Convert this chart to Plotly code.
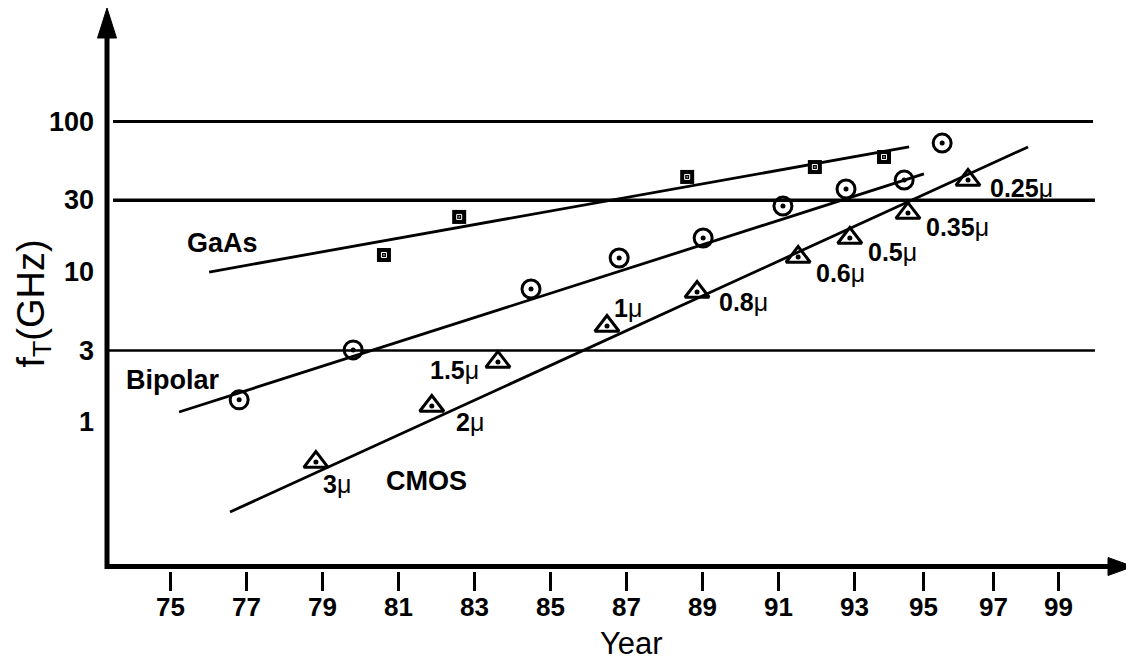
import math
import plotly.graph_objects as go

# ---------------- data ----------------
gaas_year = [80.63, 82.61, 88.61, 91.97, 93.79]
gaas_ft = [12.95, 23.2, 42.8, 49.8, 58.1]

bip_year = [76.82, 79.82, 84.50, 86.82, 89.03, 91.13, 92.79, 94.32, 95.32]
bip_ft = [1.41, 3.03, 7.70, 12.37, 16.8, 27.4, 35.6, 40.8, 71.9]

cmos_year = [78.84, 81.89, 83.63, 86.50, 88.87, 91.53, 92.89, 94.42, 96.00]
cmos_ft = [0.544, 1.283, 2.52, 4.37, 7.35, 12.56, 16.8, 24.6, 40.8]
cmos_node = ["3", "2", "1.5", "1", "0.8", "0.6", "0.5", "0.35", "0.25"]

gaas_trend_year = [76.03, 94.45]
gaas_trend_ft = [9.98, 67.7]
bip_trend_year = [75.24, 94.84]
bip_trend_ft = [1.171, 44.8]
cmos_trend_year = [76.58, 97.58]
cmos_trend_ft = [0.2533, 67.7]

ref_levels = [100, 30, 3]

x_tick_labels = ["75", "77", "79", "81", "83", "85", "87", "89", "91", "93", "95", "97", "99"]
x_tick_pos = [75, 77, 79, 81, 83, 85, 87, 89, 91, 93, 94.84, 96.68, 98.37]
y_tick_vals = [1, 3, 10, 30, 100]

series_names = ["GaAs", "Bipolar", "CMOS"]
series_label_year = [76.37, 75.08, 81.76]
series_label_ft = [15.57, 1.911, 0.407]

# ---------------- styling ----------------
FONT = "Liberation Sans, Arial, Helvetica, sans-serif"
# the page body has an 8px margin, so the figure is made 8px smaller
W, H = 1126, 654
L_M, R_M, T_M, B_M = 99, 4, 2, 91
PLOT_W = W - L_M - R_M      # 1023
PLOT_H = H - T_M - B_M      # 561
REF_LEFT, REF_BOTTOM = 107, 571   # plot-area edges in screen pixels


def paper_x(p):
    return (p - REF_LEFT) / PLOT_W


def paper_y(p):
    return (REF_BOTTOM - p) / PLOT_H


node_shift = [(21, -22), (38, -16), (-43, -8), (21, 18), (46, -10),
              (42, -16), (43, -14), (50, -14), (53, -8)]
grid_width = [2.8, 3.5, 2.5]
grid_x0 = [73.50, 73.50, 73.34]
grid_x1 = [99.29, 99.34, 99.34]

fig = go.Figure()

line_style = dict(color="black", width=2.8)
for xs, ys in [(gaas_trend_year, gaas_trend_ft), (bip_trend_year, bip_trend_ft),
               (cmos_trend_year, cmos_trend_ft)]:
    fig.add_trace(go.Scatter(x=xs, y=ys, mode="lines", line=line_style,
                             showlegend=False, hoverinfo="skip"))

# GaAs squares
fig.add_trace(go.Scatter(x=gaas_year, y=gaas_ft, mode="markers", name="GaAs",
                         marker=dict(symbol="square", size=14, color="black",
                                     line=dict(width=0)), showlegend=False))
fig.add_trace(go.Scatter(x=gaas_year, y=gaas_ft, mode="markers", hoverinfo="skip",
                         marker=dict(symbol="square-open-dot", size=5, color="white",
                                     line=dict(width=1, color="white")), showlegend=False))
# Bipolar circles
fig.add_trace(go.Scatter(x=bip_year, y=bip_ft, mode="markers", name="Bipolar",
                         marker=dict(symbol="circle-open", size=18, color="black",
                                     line=dict(width=3, color="black")), showlegend=False))
fig.add_trace(go.Scatter(x=bip_year, y=bip_ft, mode="markers", hoverinfo="skip",
                         marker=dict(symbol="circle", size=5, color="black"), showlegend=False))
# CMOS triangles
fig.add_trace(go.Scatter(x=cmos_year, y=cmos_ft, mode="markers", name="CMOS",
                         marker=dict(symbol="triangle-up-open", size=21, color="black",
                                     line=dict(width=3, color="black")), showlegend=False))
fig.add_trace(go.Scatter(x=cmos_year, y=cmos_ft, mode="markers", hoverinfo="skip",
                         marker=dict(symbol="circle", size=5, color="black"), showlegend=False))

annotations = []
for name, xv, yv in zip(series_names, series_label_year, series_label_ft):
    annotations.append(dict(x=xv, y=math.log10(yv), xref="x", yref="y", text=f"<b>{name}</b>",
                            showarrow=False, font=dict(family=FONT, size=27, color="black"),
                            xanchor="center", yanchor="middle"))
for xv, yv, node, (dx, dy) in zip(cmos_year, cmos_ft, cmos_node, node_shift):
    annotations.append(dict(x=xv, y=math.log10(yv), xref="x", yref="y", text=f"<b>{node}</b>μ",
                            showarrow=False, font=dict(family=FONT, size=25, color="black"),
                            xanchor="center", yanchor="middle", xshift=dx, yshift=dy))
# tick labels
for v in y_tick_vals:
    annotations.append(dict(x=paper_x(96), y=math.log10(v), xref="paper", yref="y",
                            text=f"<b>{v}</b>", showarrow=False,
                            font=dict(family=FONT, size=27, color="black"),
                            xanchor="right", yanchor="middle"))
for pos, lab in zip(x_tick_pos, x_tick_labels):
    annotations.append(dict(x=pos, y=paper_y(607.5), xref="x", yref="paper",
                            text=f"<b>{lab}</b>", showarrow=False,
                            font=dict(family=FONT, size=26, color="black"),
                            xanchor="center", yanchor="middle"))
# axis titles
annotations.append(dict(x=paper_x(631), y=paper_y(643.5), xref="paper", yref="paper", text="Year",
                        showarrow=False, font=dict(family=FONT, size=31, color="black"),
                        xanchor="center", yanchor="middle"))
annotations.append(dict(x=paper_x(33), y=paper_y(303.5), xref="paper", yref="paper",
                        text="f<sub>T</sub>(GHz)", textangle=-90,
                        showarrow=False, font=dict(family=FONT, size=38, color="black"),
                        xanchor="center", yanchor="middle"))

shapes = []
for lvl, wdt, x0, x1 in zip(ref_levels, grid_width, grid_x0, grid_x1):
    shapes.append(dict(type="line", xref="x", yref="y", x0=x0, x1=x1, y0=lvl, y1=lvl,
                       line=dict(color="black", width=wdt)))
# axis lines
shapes.append(dict(type="line", xref="paper", yref="paper",
                   x0=paper_x(107), x1=paper_x(107), y0=paper_y(569), y1=paper_y(30),
                   line=dict(color="black", width=5)))
shapes.append(dict(type="line", xref="paper", yref="paper",
                   x0=paper_x(105), x1=paper_x(1115), y0=paper_y(566.5), y1=paper_y(566.5),
                   line=dict(color="black", width=5)))
# arrow heads
shapes.append(dict(type="path", xref="paper", yref="paper",
                   path=(f"M {paper_x(107)},{paper_y(8)} L {paper_x(116.5)},{paper_y(38)} "
                         f"L {paper_x(97.5)},{paper_y(38)} Z"),
                   fillcolor="black", line=dict(color="black", width=1)))
shapes.append(dict(type="path", xref="paper", yref="paper",
                   path=(f"M {paper_x(1133)},{paper_y(566.5)} L {paper_x(1108)},{paper_y(557.5)} "
                         f"L {paper_x(1108)},{paper_y(575.5)} Z"),
                   fillcolor="black", line=dict(color="black", width=1)))

fig.update_layout(
    width=W, height=H,
    margin=dict(l=L_M, r=R_M, t=T_M, b=B_M),
    paper_bgcolor="white", plot_bgcolor="white",
    showlegend=False,
    annotations=annotations,
    shapes=shapes,
    xaxis=dict(range=[73.3421, 100.2632], tickvals=x_tick_pos, showticklabels=False,
               showgrid=False, zeroline=False, showline=False,
               ticks="outside", ticklen=19, tickwidth=2.5, tickcolor="black"),
    yaxis=dict(type="log", range=[-0.9887, 2.7414], tickvals=y_tick_vals, showticklabels=False,
               showgrid=False, zeroline=False, showline=False, ticks=""),
)

fig.write_html("out.html")
